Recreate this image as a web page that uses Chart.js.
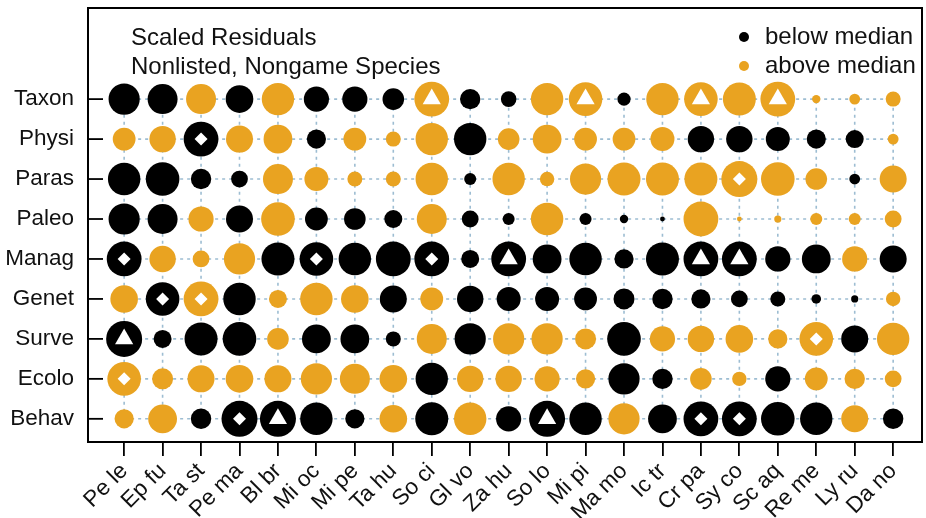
<!DOCTYPE html>
<html>
<head>
<meta charset="utf-8">
<script src="https://cdn.jsdelivr.net/npm/chart.js@4/dist/chart.umd.min.js"></script>
<style>
  html, body { margin: 0; padding: 0; background: #fff; }
  #wrap { width: 926px; height: 518px; }
</style>
</head>
<body>
<div id="wrap"><canvas id="residChart"></canvas></div>
<script>
    // species along the bottom, traits bottom-to-top
    const species = ["Pe le", "Ep fu", "Ta st", "Pe ma", "Bl br", "Mi oc", "Mi pe", "Ta hu", "So ci", "Gl vo",
        "Za hu", "So lo", "Mi pi", "Ma mo", "Ic tr", "Cr pa", "Sy co", "Sc aq", "Re me", "Ly ru", "Da no"];
    const traits = ["Behav", "Ecolo", "Surve", "Genet", "Manag", "Paleo", "Paras", "Physi", "Taxon"];

    // scaled residuals, one value per species (negative = below median)
    const taxon = [-2.6, -2.5, 2.5, -2.3, 2.7, -2.1, -2.1, -1.8, 2.9, -1.7, -1.3, 2.7, 2.8, -1.1, 2.7, 2.8, 2.75, 2.9, 0.7, 0.9, 1.25];
    const physi = [1.9, 2.2, -2.9, 2.25, 2.4, -1.6, 1.9, 1.25, 2.7, -2.7, 1.8, 2.4, 1.9, 1.9, 2.0, -2.2, -2.2, -2.0, -1.6, -1.5, 0.9];
    const paras = [-2.7, -2.8, -1.7, -1.4, 2.5, 2.0, 1.25, 1.25, 2.7, -1.0, 2.7, 1.2, 2.6, 2.75, 2.75, 2.75, 3.0, 2.8, 1.8, -0.9, 2.25];
    const paleo = [-2.6, -2.5, 2.1, -2.25, 2.8, -1.9, -1.8, -1.5, 2.5, -1.4, -1.0, 2.7, -1.0, -0.7, -0.4, 2.9, 0.4, 0.6, 1.0, 1.0, 1.4];
    const manag = [-2.9, 2.2, 1.4, 2.6, -2.75, -2.8, -2.7, -2.9, -2.9, -1.5, -2.9, -2.4, -2.7, -1.6, -2.75, -2.9, -2.9, -2.1, -2.4, 2.1, -2.25];
    const genet = [2.3, -2.8, 2.9, -2.7, 1.5, 2.7, 2.3, -2.25, 1.9, -2.2, -2.0, -2.0, -1.9, -1.75, -1.7, -1.6, -1.4, -1.25, -0.8, -0.6, 1.2];
    const surve = [-3.0, -1.5, -2.75, -2.8, 1.8, -2.4, -2.4, -1.25, 2.5, -2.6, 2.6, 2.6, 1.75, -2.8, 2.1, 2.2, 2.3, 1.6, 2.8, -2.25, 2.7];
    const ecolo = [2.8, 1.75, 2.25, 2.3, 2.25, 2.6, 2.5, 2.3, -2.7, 2.2, 2.2, 2.1, 1.6, -2.6, -1.7, 1.8, 1.2, -2.1, 1.9, 1.7, 1.4];
    const behav = [1.6, 2.4, -1.7, -3.0, -3.0, -2.7, -1.6, 2.3, -2.75, 2.7, -2.1, -3.0, -2.7, 2.6, -2.4, -2.9, -2.9, -2.8, -2.7, 2.25, -1.7];

    // flagged cells [species, trait]
    const diamondCells = [["Ta st", "Physi"], ["Sy co", "Paras"], ["Pe le", "Manag"], ["Mi oc", "Manag"], ["So ci", "Manag"],
        ["Ep fu", "Genet"], ["Ta st", "Genet"], ["Re me", "Surve"], ["Pe le", "Ecolo"], ["Pe ma", "Behav"],
        ["Cr pa", "Behav"], ["Sy co", "Behav"]];
    const triangleCells = [["So ci", "Taxon"], ["Mi pi", "Taxon"], ["Cr pa", "Taxon"], ["Sc aq", "Taxon"],
        ["Za hu", "Manag"], ["Cr pa", "Manag"], ["Sy co", "Manag"], ["Pe le", "Surve"], ["Bl br", "Behav"], ["So lo", "Behav"]];

    const residuals = { Behav: behav, Ecolo: ecolo, Surve: surve, Genet: genet, Manag: manag,
        Paleo: paleo, Paras: paras, Physi: physi, Taxon: taxon };

    const ORANGE = "#e9a321";
    const GRID = "#9dbdd2";
    const PX_PER_UNIT = 6;
    const FAMILY = "'Liberation Sans', Arial, Helvetica, sans-serif";
    const FONT = { family: FAMILY, size: 22.5 };

    const below = [];
    const above = [];
    traits.forEach((t, i) => {
        residuals[t].forEach((v, j) => {
            const pt = { x: j, y: i, r: Math.abs(v) };
            (v < 0 ? below : above).push(pt);
        });
    });
    const cellPoint = c => ({ x: species.indexOf(c[0]), y: traits.indexOf(c[1]) });

    const gridSets = [];
    traits.forEach((t, i) => gridSets.push({ data: [{ x: 0, y: i }, { x: species.length - 1, y: i }] }));
    species.forEach((s, j) => gridSets.push({ data: [{ x: j, y: 0 }, { x: j, y: traits.length - 1 }] }));

    const datasets = gridSets.map(g => ({
        data: g.data,
        showLine: true,
        borderColor: GRID,
        borderWidth: 1.6,
        borderDash: [3, 4],
        pointRadius: 0,
        order: 3,
    }));
    datasets.push({
        label: "below median",
        data: below,
        backgroundColor: "#000",
        borderWidth: 0,
        pointRadius: ctx => ctx.raw.r * PX_PER_UNIT,
        order: 2,
    });
    datasets.push({
        label: "above median",
        data: above,
        backgroundColor: ORANGE,
        borderWidth: 0,
        pointRadius: ctx => ctx.raw.r * PX_PER_UNIT,
        order: 2,
    });
    datasets.push({
        data: diamondCells.map(cellPoint),
        pointStyle: "rectRot",
        backgroundColor: "#fff",
        borderWidth: 0,
        pointRadius: 6.5,
        order: 1,
    });
    datasets.push({
        data: triangleCells.map(cellPoint),
        pointStyle: "triangle",
        backgroundColor: "#fff",
        borderWidth: 0,
        pointRadius: 10.5,
        order: 1,
    });

    // full box plus inward ticks on the left axis
    const framePlugin = {
        id: "frame",
        afterDraw(chart) {
            const { ctx, chartArea: a, scales } = chart;
            ctx.save();
            ctx.strokeStyle = "#000";
            ctx.lineWidth = 2;
            ctx.strokeRect(a.left, a.top, a.right - a.left, a.bottom - a.top);
            ctx.lineWidth = 1.8;
            traits.forEach((t, i) => {
                const y = scales.y.getPixelForValue(i);
                ctx.beginPath();
                ctx.moveTo(a.left, y);
                ctx.lineTo(a.left + 15, y);
                ctx.stroke();
            });
            ctx.restore();
        },
    };

    // heading and key in the upper corners
    const notesPlugin = {
        id: "notes",
        afterDraw(chart) {
            const { ctx, chartArea: a } = chart;
            ctx.save();
            ctx.font = "24px " + FAMILY;
            ctx.fillStyle = "#111";
            ctx.textBaseline = "middle";
            ctx.textAlign = "left";
            ctx.fillText("Scaled Residuals", a.left + 43, a.top + 30);
            ctx.fillText("Nonlisted, Nongame Species", a.left + 43, a.top + 59);
            const keys = [["below median", "#000"], ["above median", ORANGE]];
            keys.forEach((k, i) => {
                const y = a.top + 29 + i * 29;
                ctx.fillStyle = k[1];
                ctx.beginPath();
                ctx.arc(a.right - 178, y, 5, 0, Math.PI * 2);
                ctx.fill();
                ctx.fillStyle = "#111";
                ctx.fillText(k[0], a.right - 157, y);
            });
            ctx.restore();
        },
    };

    // keep the plot box fixed: no extra room for half-labels at the ends
    const noEndPadding = s => {
        s.paddingTop = 0;
        s.paddingBottom = 0;
        s.paddingLeft = 0;
        s.paddingRight = 0;
    };

    const residCtx = document.getElementById("residChart").getContext("2d");
    const residChart = new Chart(residCtx, {
        type: "scatter",
        data: { datasets: datasets },
        options: {
            responsive: true,
            maintainAspectRatio: false,
            animation: false,
            events: [],
            layout: { autoPadding: false, padding: { top: 8, right: 4, left: 0, bottom: 0 } },
            plugins: {
                legend: { display: false },
                tooltip: { enabled: false },
            },
            scales: {
                x: {
                    type: "linear",
                    min: -0.94,
                    max: 20.75,
                    afterBuildTicks: s => { s.ticks = species.map((_, i) => ({ value: i })); },
                    afterFit: s => { s.height = 76; noEndPadding(s); },
                    ticks: {
                        callback: v => species[v],
                        autoSkip: false,
                        minRotation: 45,
                        maxRotation: 45,
                        padding: 2,
                        color: "#111",
                        font: FONT,
                    },
                    grid: { drawOnChartArea: false, drawTicks: true, tickLength: 14, color: "#000", lineWidth: 1.8 },
                    border: { color: "#000", width: 2 },
                },
                y: {
                    type: "linear",
                    min: -0.58,
                    max: 10.28,
                    afterBuildTicks: s => { s.ticks = traits.map((_, i) => ({ value: i })); },
                    afterFit: s => { s.width = 88; noEndPadding(s); },
                    ticks: {
                        callback: v => traits[v],
                        padding: 14,
                        color: "#111",
                        font: FONT,
                    },
                    grid: { drawOnChartArea: false, drawTicks: false },
                    border: { color: "#000", width: 2 },
                },
            },
        },
        plugins: [framePlugin, notesPlugin],
    });
</script>
</body>
</html>
